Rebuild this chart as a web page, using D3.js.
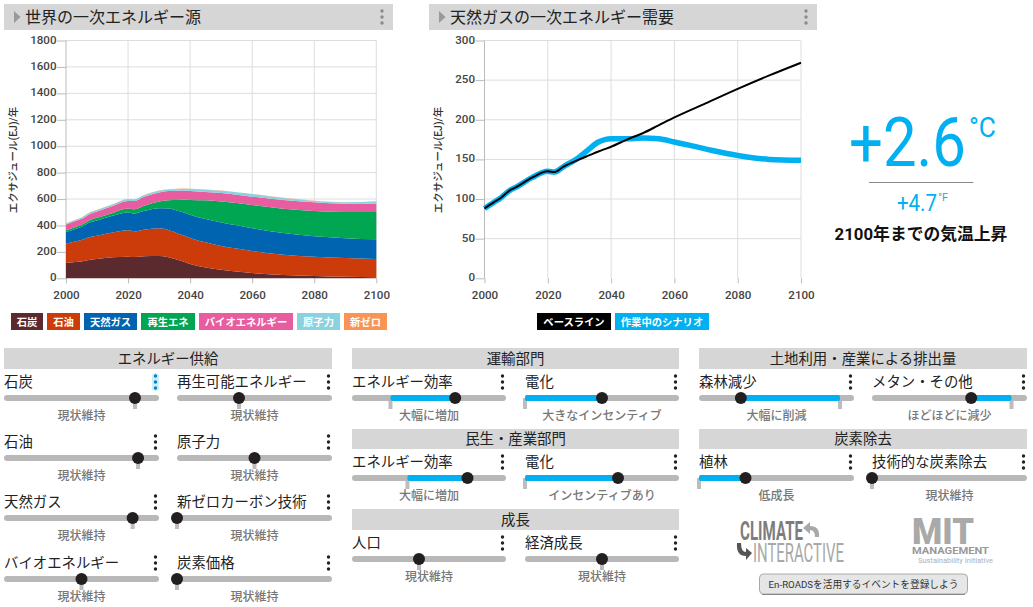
<!DOCTYPE html>
<html lang="ja">
<head>
<meta charset="utf-8">
<script src="https://cdn.jsdelivr.net/npm/d3@7"></script>
<style>
  html, body { margin: 0; padding: 0; background: #fff; }
  svg { display: block; }
  text { font-family: Roboto, "Noto Sans CJK JP", sans-serif; }
  .axis text { font-size: 11.6px; font-weight: 500; fill: #444; }
  .axis line { stroke: #bbb; }
  .axis path { display: none; }
  .grid line { stroke: #ddd; }
</style>
</head>
<body>
<div class="chart"></div>
<script>
// DATA ------------------------------------
const years = [2000, 2003, 2005, 2008, 2010, 2015, 2020, 2022, 2025, 2030, 2033, 2036, 2038, 2040, 2045, 2050, 2055, 2060, 2070, 2080, 2090, 2100];

const coal = [116, 123, 128, 141, 147, 159, 164, 161, 166, 169, 160, 140, 125, 108, 82, 65, 52, 40, 25, 18, 11, 8];
const oil = [146, 155, 162, 174, 176, 187, 199, 195, 202, 209, 206, 200, 199, 197, 190, 180, 173, 167, 154, 146, 143, 138];
const gas = [88, 96, 101, 111, 115, 127, 135, 134, 141, 153, 163, 172, 175, 176, 176, 177, 176, 172, 163, 155, 150, 149];
const renewables = [14, 14, 15, 18, 20, 22, 30, 32, 38, 51, 61, 80, 95, 111, 142, 160, 169, 176, 185, 190, 198, 207];
const bioenergy = [44, 45, 44, 47, 48, 52, 57, 63, 68, 68, 70, 71, 70, 68, 63, 63, 62, 63, 65, 66, 63, 65];
const nuclear = [8, 9, 10, 11, 11, 12, 14, 13, 13, 13, 13, 13, 14, 16, 18, 18, 19, 20, 16, 11, 10, 16];
const newZero = [1, 1, 1, 1, 1, 1, 1, 1, 1, 1, 1, 1, 1, 1, 1, 1, 1, 1, 1, 1, 1, 1];

const baselineGas = [88, 96, 101, 111, 115, 127, 135, 134, 141, 150, 155, 160, 163, 166, 175, 183, 193, 203, 221, 239, 256, 272];
const scenarioGas = gas;

const sourceNames = ["石炭", "石油", "天然ガス", "再生エネ", "バイオエネルギー", "原子力", "新ゼロ"];
const sourceValues = [coal, oil, gas, renewables, bioenergy, nuclear, newZero];
const sourceColors = ["#5b2a2e", "#cc3c0a", "#0064b0", "#00a651", "#e85da0", "#88d3df", "#f99455"];

const sourceTicks = [0, 200, 400, 600, 800, 1000, 1200, 1400, 1600, 1800];
const gasTicks = [0, 50, 100, 150, 200, 250, 300];
const yearTicks = [2000, 2020, 2040, 2060, 2080, 2100];

// slider values are percent of the track; refs are where the grey status quo mark sits
const supplyNames = ["石炭", "再生可能エネルギー", "石油", "原子力", "天然ガス", "新ゼロカーボン技術", "バイオエネルギー", "炭素価格"];
const supplyValues = [84.5, 40, 86.5, 50, 83, 0, 50, 0];
const supplyCaptions = ["現状維持", "現状維持", "現状維持", "現状維持", "現状維持", "現状維持", "現状維持", "現状維持"];

const transportNames = ["エネルギー効率", "電化"];
const transportValues = [67, 50];
const transportRefs = [25, 0];
const transportCaptions = ["大幅に増加", "大きなインセンティブ"];

const buildingNames = ["エネルギー効率", "電化"];
const buildingValues = [75, 60.4];
const buildingRefs = [36, 0];
const buildingCaptions = ["大幅に増加", "インセンティブあり"];

const growthNames = ["人口", "経済成長"];
const growthValues = [43.5, 50];
const growthCaptions = ["現状維持", "現状維持"];

const landNames = ["森林減少", "メタン・その他"];
const landValues = [27, 64];
const landRefs = [91, 90];
const landCaptions = ["大幅に削減", "ほどほどに減少"];

const removalNames = ["植林", "技術的な炭素除去"];
const removalValues = [30, 0];
const removalRefs = [0, 0];
const removalCaptions = ["低成長", "現状維持"];

// CHART INIT ------------------------------
const svg = d3.select(".chart").append("svg")
    .attr("width", 1033)
    .attr("height", 607);

function titleBar(x, w, label) {
    svg.append("rect").attr("x", x).attr("y", 4).attr("width", w).attr("height", 26).attr("fill", "#d6d6d6");
    svg.append("path")
        .attr("d", `M${x + 10},11 L${x + 16.5},17 L${x + 10},23 Z`)
        .attr("fill", "#999");
    svg.append("text").attr("x", x + 21).attr("y", 22.5).attr("font-size", 16).attr("fill", "#222").text(label);
    dots(x + w - 11, 17, "#8a8a8a");
}

function dots(x, y, color) {
    svg.selectAll(null).data([-6, 0, 6]).enter().append("circle")
        .attr("cx", x).attr("cy", d => y + d).attr("r", 1.7).attr("fill", color);
}

// squeeze a text into a given width, the reference uses a condensed face we don't have
function fitted(x, y, width, size, color, label) {
    const t = svg.append("text").attr("font-size", size).attr("fill", color).text(label);
    const sx = width / t.node().getComputedTextLength();
    t.attr("transform", `translate(${x},${y}) scale(${sx},1)`);
    return t;
}

function axes(left, right, top, bottom, yMax, ticks, label, labelX) {
    const xScale = d3.scaleLinear().domain([2000, 2100]).range([left, right]);
    const yScale = d3.scaleLinear().domain([0, yMax]).range([bottom, top]);

    svg.append("g").attr("class", "grid")
        .selectAll("line").data(ticks.slice(1)).enter().append("line")
        .attr("x1", left).attr("x2", right).attr("y1", d => yScale(d)).attr("y2", d => yScale(d));
    svg.append("g").attr("class", "grid")
        .selectAll("line").data(yearTicks.slice(1)).enter().append("line")
        .attr("x1", d => xScale(d)).attr("x2", d => xScale(d)).attr("y1", top).attr("y2", bottom);

    const yAxis = svg.append("g").attr("class", "axis")
        .attr("transform", `translate(${left},0)`)
        .call(d3.axisLeft(yScale).tickValues(ticks).tickSize(9).tickPadding(0.5).tickFormat(d3.format("d")));
    yAxis.selectAll("text").attr("dy", "0.22em");
    svg.append("g").attr("class", "axis")
        .attr("transform", `translate(0,${bottom})`)
        .call(d3.axisBottom(xScale).tickValues(yearTicks).tickSize(5).tickPadding(7).tickFormat(d3.format("d")));

    svg.append("line").attr("x1", left).attr("x2", left).attr("y1", top).attr("y2", bottom).attr("stroke", "#bbb");
    svg.append("text")
        .attr("transform", `translate(${labelX},160) rotate(-90)`)
        .attr("text-anchor", "middle").attr("font-size", 10.5).attr("font-weight", 500).attr("fill", "#333")
        .text(label);
    return { xScale, yScale };
}

function legend(items) {
    items.forEach(d => {
        svg.append("rect").attr("x", d.x0).attr("y", 313).attr("width", d.x1 - d.x0).attr("height", 17).attr("fill", d.color);
        svg.append("text").attr("x", (d.x0 + d.x1) / 2).attr("y", 325.5)
            .attr("text-anchor", "middle").attr("font-size", 10.3).attr("font-weight", 700).attr("fill", "#fff").text(d.name);
    });
}

// PRIMARY ENERGY STACK --------------------
titleBar(4, 389, "世界の一次エネルギー源");
const left = axes(66, 376.3, 40.5, 278.3, 1800, sourceTicks, "エクサジュール(EJ)/年", 17);

const rows = years.map((y, i) => {
    const row = { year: y };
    sourceNames.forEach((n, s) => { row[n] = sourceValues[s][i]; });
    return row;
});
const layers = d3.stack().keys(sourceNames)(rows);
const stackArea = d3.area()
    .x(d => left.xScale(d.data.year))
    .y0(d => left.yScale(d[0]))
    .y1(d => left.yScale(d[1]))
    .curve(d3.curveMonotoneX);
svg.append("g").selectAll("path").data(layers).enter().append("path")
    .attr("d", stackArea)
    .attr("fill", (d, i) => sourceColors[i]);

const legendEdges = [[11, 43], [47, 80], [84, 137], [141, 195], [199, 293], [297, 340], [344, 387]];
legend(sourceNames.map((name, i) => ({ name, color: sourceColors[i], x0: legendEdges[i][0], x1: legendEdges[i][1] })));

// GAS DEMAND LINES ------------------------
titleBar(429, 388, "天然ガスの一次エネルギー需要");
const right = axes(484.5, 801, 40.5, 278.3, 300, gasTicks, "エクサジュール(EJ)/年", 442);

const gasLine = d3.line()
    .x((d, i) => right.xScale(years[i]))
    .y(d => right.yScale(d))
    .curve(d3.curveMonotoneX);
svg.append("path").attr("d", gasLine(scenarioGas)).attr("fill", "none").attr("stroke", "#00b0f0").attr("stroke-width", 5.5);
svg.append("path").attr("d", gasLine(baselineGas)).attr("fill", "none").attr("stroke", "#000").attr("stroke-width", 2);

legend([
    { name: "ベースライン", color: "#000", x0: 537, x1: 611 },
    { name: "作業中のシナリオ", color: "#00b0f0", x0: 615, x1: 709 }
]);

// TEMPERATURE -----------------------------
fitted(849, 166, 117, 69, "#00b0f0", "+2.6");
fitted(969, 137, 27, 27, "#00b0f0", "°C");
svg.append("line").attr("x1", 869).attr("x2", 973.5).attr("y1", 182.5).attr("y2", 182.5).attr("stroke", "#888");
fitted(897, 211, 40, 24, "#00b0f0", "+4.7");
fitted(938, 201, 10, 11, "#00b0f0", "°F");
svg.append("text").attr("x", 921).attr("y", 240).attr("text-anchor", "middle")
    .attr("font-size", 16.8).attr("font-weight", 700).attr("fill", "#111").text("2100年までの気温上昇");

// CONTROLS --------------------------------
function sectionHeader(x0, x1, y0, y1, label) {
    svg.append("rect").attr("x", x0).attr("y", y0).attr("width", x1 - x0).attr("height", y1 - y0).attr("fill", "#d6d6d6");
    svg.append("text").attr("x", (x0 + x1) / 2).attr("y", (y0 + y1) / 2 + 5)
        .attr("text-anchor", "middle").attr("font-size", 14.4).attr("fill", "#222").text(label);
}

function slider(x0, x1, trackY, name, value, ref, caption) {
    const pos = d3.scaleLinear().domain([0, 100]).range([x0, x1]);

    svg.append("text").attr("x", x0).attr("y", trackY - 11).attr("font-size", 14.4).attr("fill", "#222").text(name);
    if (name === "石炭") {
        svg.append("rect").attr("x", x1 - 7).attr("y", trackY - 25).attr("width", 7).attr("height", 18).attr("rx", 3.5).attr("fill", "#cdeefb");
    }
    dots(x1 - 3.5, trackY - 16, name === "石炭" ? "#0a7fc0" : "#222");

    svg.append("rect").attr("x", pos(ref) - 2).attr("y", trackY).attr("width", 4).attr("height", 11).attr("fill", "#bdbdbd");
    svg.append("rect").attr("x", x0).attr("y", trackY - 3).attr("width", x1 - x0).attr("height", 6).attr("rx", 3).attr("fill", "#b8b8b8");
    if (value !== ref) {
        const a = Math.min(pos(value), pos(ref)), b = Math.max(pos(value), pos(ref));
        svg.append("rect").attr("x", a).attr("y", trackY - 3).attr("width", b - a).attr("height", 6).attr("rx", 2).attr("fill", "#00b0f0");
    }
    svg.append("circle").attr("cx", pos(value)).attr("cy", trackY).attr("r", 6).attr("fill", "#231f20");

    svg.append("text").attr("x", (x0 + x1) / 2).attr("y", trackY + 22)
        .attr("text-anchor", "middle").attr("font-size", 12).attr("font-weight", 500).attr("fill", "#777").text(caption);
}

function sliderPair(cols, trackY, names, values, refs, captions) {
    names.forEach((n, i) => slider(cols[i][0], cols[i][1], trackY, n, values[i], refs[i], captions[i]));
}

const col1 = [[4, 159], [177, 332]];
const col2 = [[352, 506], [525, 679]];
const col3 = [[699, 854], [872, 1027]];

sectionHeader(4, 332, 348, 369, "エネルギー供給");
[398, 458, 518, 579].forEach((trackY, r) => {
    const i = r * 2;
    sliderPair(col1, trackY, supplyNames.slice(i, i + 2), supplyValues.slice(i, i + 2), supplyValues.slice(i, i + 2), supplyCaptions.slice(i, i + 2));
});

sectionHeader(352, 679, 348, 369, "運輸部門");
sliderPair(col2, 398, transportNames, transportValues, transportRefs, transportCaptions);
sectionHeader(352, 679, 429, 449, "民生・産業部門");
sliderPair(col2, 478, buildingNames, buildingValues, buildingRefs, buildingCaptions);
sectionHeader(352, 679, 509, 530, "成長");
sliderPair(col2, 559, growthNames, growthValues, growthValues, growthCaptions);

sectionHeader(699, 1027, 348, 369, "土地利用・産業による排出量");
sliderPair(col3, 398, landNames, landValues, landRefs, landCaptions);
sectionHeader(699, 1027, 429, 449, "炭素除去");
sliderPair(col3, 478, removalNames, removalValues, removalRefs, removalCaptions);

// LOGOS AND BUTTON ------------------------
fitted(740, 540, 62, 25, "#7d7d7d", "CLIMATE").attr("font-weight", 700)
    .style("font-family", '"Liberation Sans Narrow", Roboto');
fitted(753, 562, 91, 25, "#a8a8a8", "INTERACTIVE")
    .style("font-family", '"Liberation Sans Narrow", Roboto');
svg.append("path").attr("d", "M819,537 Q820,526 810,526 L810,522 L803,528 L810,534 L810,530 Q815,530 815,537 Z").attr("fill", "#a8a8a8");
svg.append("path").attr("d", "M737,543 Q736,556 746,556 L746,560 L752,553 L746,548 L746,552 Q741,552 741,543 Z").attr("fill", "#555");

svg.append("text").attr("x", 912).attr("y", 544).attr("font-size", 36).attr("font-weight", 900)
    .attr("fill", "#a9a9a9").attr("textLength", 62).attr("lengthAdjust", "spacingAndGlyphs").text("MIT");
svg.append("text").attr("x", 912).attr("y", 553.5).attr("font-size", 9.5).attr("font-weight", 700)
    .attr("fill", "#999").attr("textLength", 77).attr("lengthAdjust", "spacingAndGlyphs").text("MANAGEMENT");
svg.append("text").attr("x", 918).attr("y", 563).attr("font-size", 8)
    .attr("fill", "#b0b0b0").attr("textLength", 75).attr("lengthAdjust", "spacingAndGlyphs").text("Sustainability Initiative");

svg.append("rect").attr("x", 759.5).attr("y", 574).attr("width", 208).attr("height", 20).attr("rx", 4)
    .attr("fill", "#e6e6e6").attr("stroke", "#aaa");
svg.append("line").attr("x1", 762).attr("x2", 965).attr("y1", 594.5).attr("y2", 594.5).attr("stroke", "#888");
svg.append("text").attr("x", 863.5).attr("y", 587.5).attr("text-anchor", "middle")
    .attr("font-size", 9.7).attr("fill", "#333").text("En-ROADSを活用するイベントを登録しよう");
</script>
</body>
</html>
